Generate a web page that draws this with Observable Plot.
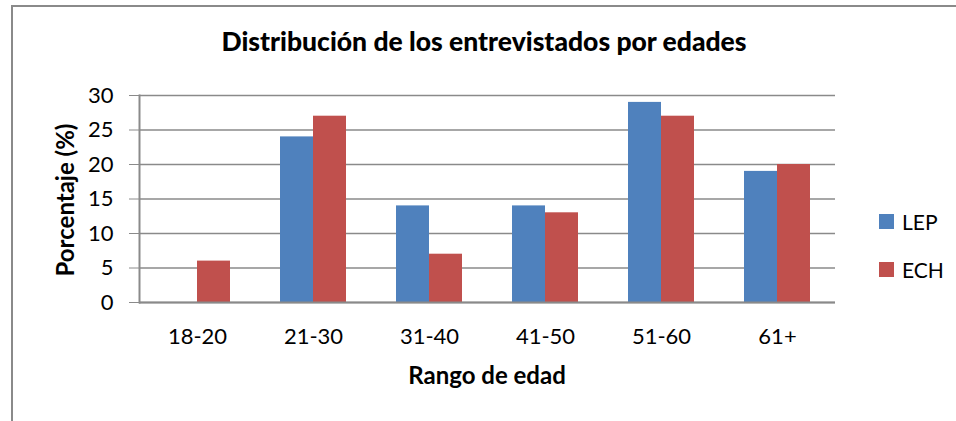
<!DOCTYPE html>
<html>
<head>
<meta charset="utf-8">
<script src="https://cdn.jsdelivr.net/npm/d3@7"></script>
<script src="https://cdn.jsdelivr.net/npm/@observablehq/plot@0.6"></script>
<style>
  body { margin: 0; background: #fff; }
  #wrap { position: relative; width: 956px; height: 421px; overflow: hidden; font-family: Lato, "Open Sans", sans-serif; }
  #border { position: absolute; left: 11px; top: 5px; width: 1000px; height: 1000px; border: 2px solid #8a8a8a; box-sizing: border-box; }
  #chart { position: absolute; left: 0; top: 0; }
  .lbl { position: absolute; white-space: nowrap; color: #000; line-height: 1; }
  #title { left: 484px; top: 28px; transform: translateX(-50%); font-weight: 900; font-size: 26.5px; }
  #xtitle { left: 487px; top: 363px; transform: translateX(-50%); font-weight: bold; font-size: 24px; }
  #ytitle { left: 65px; top: 200px; transform: translate(-50%, -50%) rotate(-90deg); font-weight: bold; font-size: 24px; }
  .leg { position: absolute; left: 879px; display: flex; align-items: center; font-size: 21px; }
  .sw { width: 15px; height: 15px; margin-right: 8px; }
</style>
</head>
<body>
<div id="wrap">
  <div id="border"></div>
  <div id="chart"></div>
  <div class="lbl" id="title">Distribución de los entrevistados por edades</div>
  <div class="lbl" id="xtitle">Rango de edad</div>
  <div class="lbl" id="ytitle">Porcentaje (%)</div>
  <div id="legend"></div>
</div>
<script>
const categories = ["18-20", "21-30", "31-40", "41-50", "51-60", "61+"];
const series = ["LEP", "ECH"];
const lep = [0, 24, 14, 14, 29, 19];
const ech = [6, 27, 7, 13, 27, 20];
const yTicks = [0, 5, 10, 15, 20, 25, 30];
const colors = ["#4F81BD", "#C0504D"];

const data = [];
categories.forEach((c, i) => {
  data.push({cat: c, series: "LEP", value: lep[i]});
  data.push({cat: c, series: "ECH", value: ech[i]});
});

const grid = "#8a8a8a";
const chart = Plot.plot({
  width: 956,
  height: 421,
  marginLeft: 137,
  marginRight: 119,
  marginTop: 95,
  marginBottom: 119,
  style: {fontFamily: "Lato, 'Open Sans', sans-serif", fontSize: "22px", color: "#000", background: "transparent"},
  fx: {domain: categories, padding: 0},
  x: {domain: series, paddingInner: 0, paddingOuter: 0.75, axis: null},
  y: {domain: [0, 30]},
  color: {domain: series, range: colors},
  marks: [
    Plot.gridY(yTicks, {stroke: grid, strokeOpacity: 1, strokeWidth: 1.5}),
    Plot.barY(data, {fx: "cat", x: "series", y: "value", fill: "series"}),
    Plot.ruleY([0], {stroke: grid, strokeWidth: 2}),
    Plot.frame({anchor: "left", facetAnchor: "left", stroke: grid, strokeWidth: 2}),
    Plot.axisY(yTicks, {tickSize: 10, tickPadding: 16, stroke: grid, fill: "#000", label: null}),
    Plot.axisFx({anchor: "bottom", tickSize: 0, tickPadding: 26, label: null, fill: "#000"})
  ]
});
document.getElementById("chart").appendChild(chart);

const legend = document.getElementById("legend");
series.forEach((s, i) => {
  const row = document.createElement("div");
  row.className = "leg";
  row.style.top = (i === 0 ? 207 : 255) + "px";
  row.style.height = "29px";
  const sw = document.createElement("div");
  sw.className = "sw";
  sw.style.background = colors[i];
  const t = document.createElement("span");
  t.textContent = s;
  row.appendChild(sw);
  row.appendChild(t);
  legend.appendChild(row);
});
</script>
</body>
</html>
